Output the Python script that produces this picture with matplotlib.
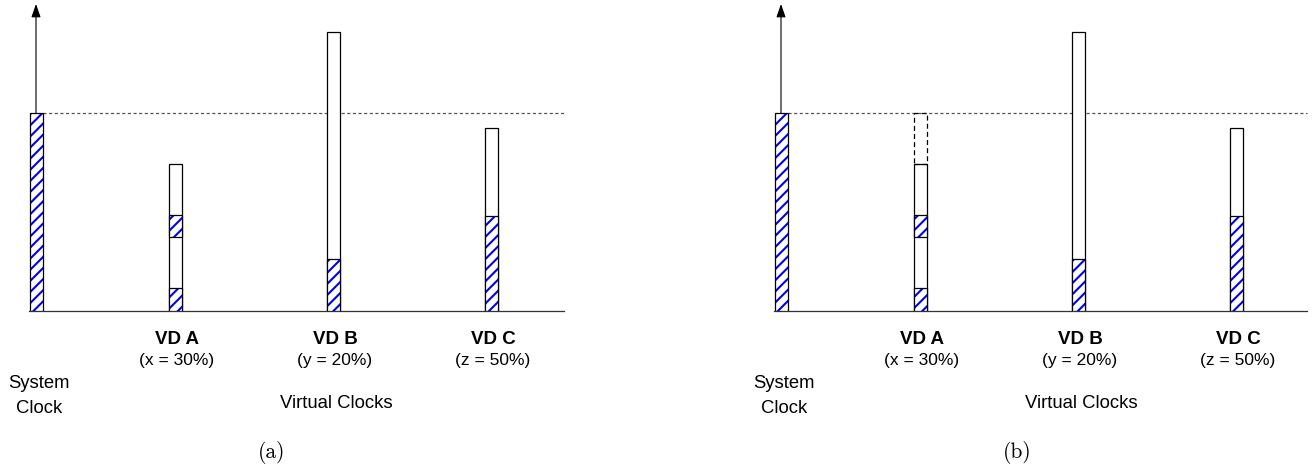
import matplotlib
matplotlib.use('Agg')
import matplotlib.pyplot as plt

# ------------------------------------------------------------------
# Data (heights in % of the system clock tick)
# ------------------------------------------------------------------
sys_clock = 100.0
vd_names = ['VD A', 'VD B', 'VD C']
vd_shares = ['(x = 30%)', '(y = 20%)', '(z = 50%)']
vd_total = [74.2, 140.8, 92.6]
# hatched (running) segments for each VD: (bottom, top)
vd_run = [[(0.0, 11.5), (37.5, 48.5)],
          [(0.0, 26.3)],
          [(0.0, 48.1)]]
panel_tags = ['(a)', '(b)']
# panel (b): VD A is stretched up to the system clock
vd_pending = [(0, 74.2, 100.0)]

# ------------------------------------------------------------------
# Layout (pixels within each panel)
# ------------------------------------------------------------------
W, H = 1313, 467
BASE_PX = 311          # baseline
SCALE = 1.98           # px per unit
SYS_X = 36
VD_X = [175, 333, 491]
BAR_W = 13
X_END = 564
PANEL_W = 568
PANEL_LEFT = [0, 745]

plt.rcParams['hatch.linewidth'] = 1.5
fig = plt.figure(figsize=(W / 100, H / 100), dpi=100)


def py(px):
    # pixel row -> data units
    return (BASE_PX - px) / SCALE


sans = 'Liberation Sans'
for k, left in enumerate(PANEL_LEFT):
    ax = fig.add_axes([left / W, (H - BASE_PX) / H, PANEL_W / W, BASE_PX / H])
    ax.set_xlim(0, PANEL_W)
    ax.set_ylim(0, py(0))
    ax.axis('off')

    # baseline and vertical arrow
    ax.plot([SYS_X - BAR_W / 2 - 1, X_END - 2 * k], [0, 0], color='#333333',
            lw=0.9, clip_on=False, zorder=1)
    ax.annotate('', xy=(SYS_X, py(4)), xytext=(SYS_X, 0),
                arrowprops=dict(arrowstyle='-|>,head_length=0.8,head_width=0.28',
                                lw=0.8, color='black', shrinkA=0, shrinkB=0),
                zorder=1)

    # dotted reference line at system clock
    ax.plot([SYS_X + BAR_W / 2, X_END - 2 * k], [sys_clock, sys_clock],
            color='#555555', lw=0.9, linestyle=(0, (2.5, 2)), zorder=1)

    # system clock bar
    ax.bar(SYS_X, sys_clock, width=BAR_W, color='white', edgecolor='#0000ee',
           hatch='///', linewidth=0, zorder=3)
    ax.bar(SYS_X, sys_clock, width=BAR_W, fill=False, edgecolor='black',
           linewidth=0.9, zorder=4)

    # virtual clocks
    for i, x in enumerate(VD_X):
        ax.bar(x, vd_total[i], width=BAR_W, color='white', edgecolor='black',
               linewidth=0.9, zorder=2)
        for b, t in vd_run[i]:
            ax.bar(x, t - b, bottom=b, width=BAR_W, color='white',
                   edgecolor='#0000ee', hatch='///', linewidth=0, zorder=3)
            ax.bar(x, t - b, bottom=b, width=BAR_W, fill=False,
                   edgecolor='black', linewidth=0.9, zorder=4)
        ax.text(x + 2, py(343.5), vd_names[i], ha='center', va='baseline',
                fontsize=13.5, fontweight='bold', family=sans)
        ax.text(x + 2, py(365), vd_shares[i], ha='center', va='baseline',
                fontsize=12.5, family=sans)

    if k == 1:
        for i, b, t in vd_pending:
            ax.bar(VD_X[i], t - b, bottom=b, width=BAR_W, fill=False,
                   edgecolor='black', linewidth=0.9,
                   linestyle=(0, (4, 2.5)), zorder=4)

    ax.text(39, py(388), 'System', ha='center', va='baseline', fontsize=13.3,
            family=sans)
    ax.text(39, py(413), 'Clock', ha='center', va='baseline', fontsize=13.3,
            family=sans)
    ax.text(336, py(408), 'Virtual Clocks', ha='center', va='baseline',
            fontsize=13.3, family=sans)
    ax.text(272, py(452), panel_tags[k], ha='center', va='center',
            fontsize=15.5, family='cmr10')

fig.savefig('out.png', dpi=100, facecolor='white')
